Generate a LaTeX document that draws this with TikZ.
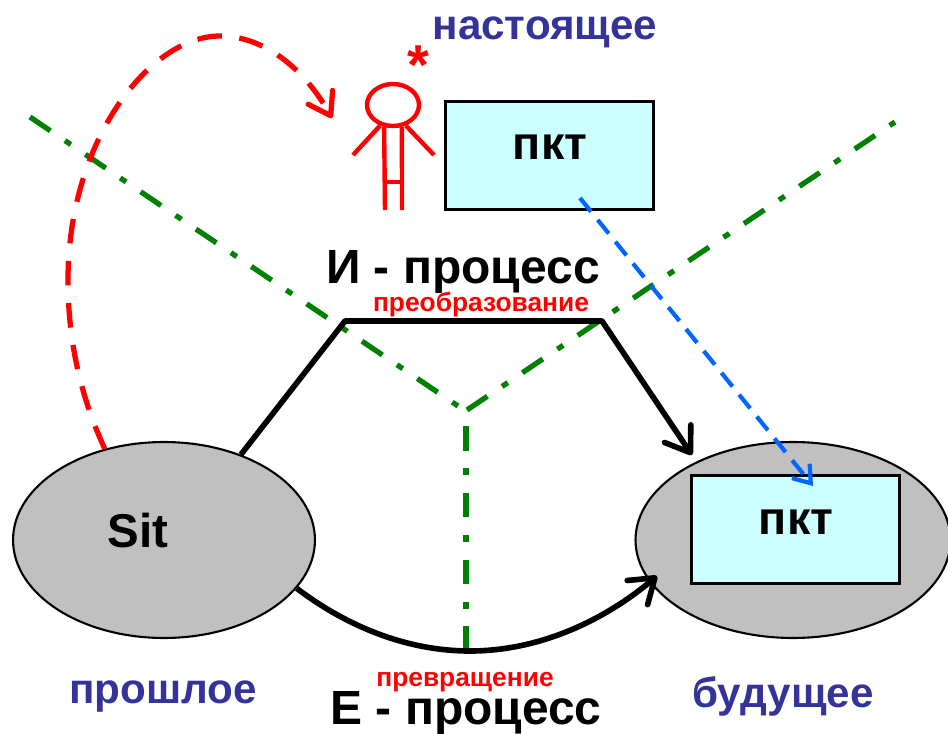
\documentclass[tikz,border=0pt]{standalone}
\usepackage{fontspec}
\setmainfont{Liberation Sans}
\usetikzlibrary{shapes.geometric,arrows.meta,positioning}

\definecolor{timeblue}{HTML}{333399}
\definecolor{boxcyan}{HTML}{CCFFFF}
\definecolor{sitgray}{HTML}{C0C0C0}
\definecolor{axisgreen}{HTML}{008000}
\definecolor{linkblue}{HTML}{0066FF}

\begin{document}
\begin{tikzpicture}[x=0.02cm, y=-0.02cm,
    sitstyle/.style={draw, ellipse, fill=sitgray, line width=1.2pt, inner sep=0pt, minimum height=3.92cm},
    pktstyle/.style={draw, rectangle, fill=boxcyan, line width=1.7pt, minimum width=4.15cm, minimum height=2.17cm},
    timelabel/.style={text=timeblue, font=\fontsize{24}{26}\selectfont\bfseries},
    processlabel/.style={font=\fontsize{27.3}{30}\selectfont\bfseries},
    redlabel/.style={text=red, font=\fontsize{15}{17}\selectfont\bfseries},
    pkttext/.style={font=\fontsize{26.5}{28}\selectfont\bfseries},
    mainline/.style={line width=3.2pt, line join=round},
    barb/.style={-{Straight Barb[length=13pt, width=18pt, line width=3.2pt, round]}},
    axisline/.style={axisgreen, line width=3pt, dash pattern=on 14pt off 10pt on 4pt off 10pt},
    figureline/.style={red, line width=2.5pt}]
    \useasboundingbox (0,0) rectangle (948,734);

    % Nodes
    \node[sitstyle, minimum width=6.04cm] (sit) at (164,540) {};
    \node[sitstyle, minimum width=6.3cm] (future) at (793,540) {};
    \node[pktstyle] (pktnow) at (549.5,155.5) {};
    \node[pktstyle] (pktfuture) at (795.5,529.5) {};
    \coordinate (axiscenter) at (467,410);
    \coordinate (axisend) at (458,406);
    \coordinate (axisleft) at (30,117);
    \coordinate (axisright) at (895,122);
    \coordinate (axisstem) at (466,426);
    \coordinate (axisbottom) at (466,651);
    \coordinate (bendleft) at (345,321);
    \coordinate (bendright) at (602,321);
    \coordinate (futuretop) at (692,455);
    \coordinate (futureleft) at (657,576);
    \coordinate (lowpoint) at (470,651);
    \coordinate (nowtip) at (332,118);
    \coordinate (pktstart) at (580,198);
    \coordinate (pkttip) at (813,486);

    % Axes
    \draw[axisline] (axisleft) -- (axisend);
    \draw[axisline] (axiscenter) -- (axisright);
    \draw[axisline] (axisstem) -- (axisbottom);

    % Processes
    \draw[mainline, barb] (sit.48) -- (bendleft) -- (bendright) -- (futuretop);
    \draw[mainline, barb] (sit.-20) .. controls (345,625) and (405,651) .. (lowpoint)
        .. controls (540,651) and (605,620) .. (futureleft);

    % Return to the present
    \draw[red, line width=3pt, dash pattern=on 14pt off 10pt, -{Straight Barb[length=12pt, width=16pt, line width=3pt, round]}]
        (sit.123) .. controls (80,395) and (68,340) .. (68,280)
        .. controls (68,140) and (150,36) .. (220,36)
        .. controls (265,36) and (305,70) .. (nowtip);
    \draw[linkblue, line width=2.4pt, dash pattern=on 10pt off 6pt, -{Straight Barb[length=9pt, width=13pt, line width=2.4pt]}] (pktstart) -- (pkttip);

    % Figure
    \node[draw=red, ellipse, line width=2.5pt, minimum width=1.04cm, minimum height=0.84cm, inner sep=0pt] (head) at (393,105) {};
    \draw[figureline] (head.-112) -- (385,210);
    \draw[figureline] (head.-68) -- (402,210);
    \draw[figureline] (385,182) -- (402,182);
    \draw[figureline] (head.-122) -- (353,155);
    \draw[figureline] (head.-58) -- (434,155);

    % Labels
    \node[timelabel] (now) at (545,32) {настоящее};
    \node[timelabel] (past) at (163,696) {прошлое};
    \node[timelabel] (next) at (783,696) {будущее};
    \node[text=red, font=\fontsize{32}{34}\selectfont\bfseries] (star) at (418,65) {*};
    \node[pkttext] (pktnowtext) at (550,147) {пкт};
    \node[pkttext] (pktfuturetext) at (796,522) {пкт};
    \node[font=\fontsize{27}{29}\selectfont\bfseries] (sittext) at (138,531) {Sit};
    \node[processlabel] (iproc) at (463,272) {И - процесс};
    \node[processlabel] (eproc) at (466,713) {Е - процесс};
    \node[redlabel] (transform) at (481,305) {преобразование};
    \node[redlabel] (convert) at (465,682) {превращение};
\end{tikzpicture}
\end{document}
